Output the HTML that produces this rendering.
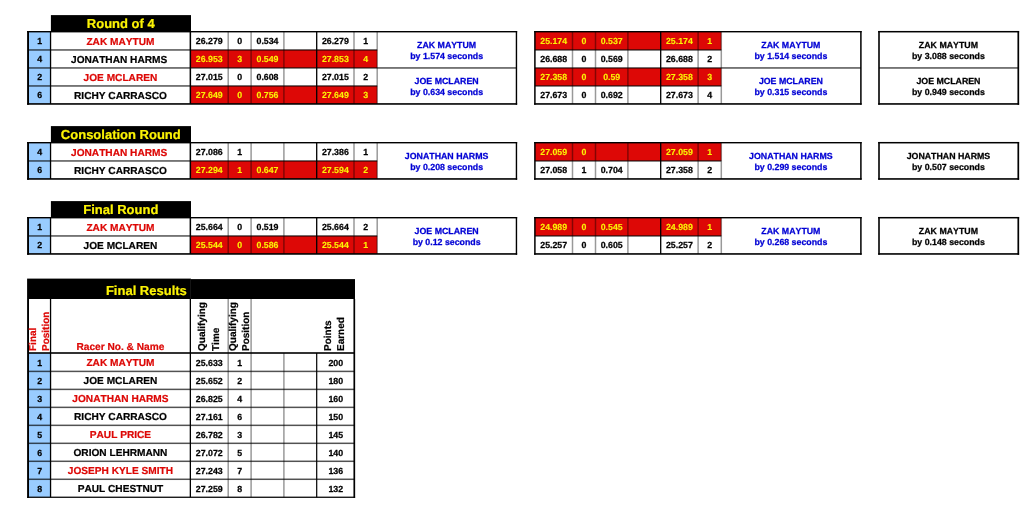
<!DOCTYPE html>
<html lang="en"><head><meta charset="utf-8"><title>Race Results</title><style>
html,body{margin:0;padding:0;background:#fff}
body{width:1024px;height:522px;position:relative;overflow:hidden;font-family:"Liberation Sans",sans-serif;font-weight:bold;font-kerning:none;text-rendering:geometricPrecision}
svg{position:absolute;left:0;top:0}
.t,.r{position:absolute;white-space:pre}
.t{width:200px;text-align:center;line-height:20px}
.d{font-size:8.8px;-webkit-text-stroke:.25px}.y{-webkit-text-stroke:.1px}.n{font-size:10.15px;-webkit-text-stroke:.2px}.h{font-size:13px;-webkit-text-stroke:.2px}
.r{font-size:10px;-webkit-text-stroke:.2px;line-height:12px;transform-origin:0 0;transform:rotate(-90deg);text-align:left}
</style></head><body>
<svg width="1024" height="522" viewBox="0 0 1024 522">
<!-- Round of 4 -->
<rect x="50.90" y="15.10" width="140.10" height="16.60" fill="#000"/>
<rect x="28.05" y="31.70" width="22.50" height="18.25" fill="#99ccff"/>
<rect x="534.90" y="31.70" width="186.40" height="18.25" fill="#dd0806"/>
<rect x="28.05" y="49.95" width="22.50" height="18.00" fill="#99ccff"/>
<rect x="190.35" y="49.95" width="186.85" height="18.00" fill="#dd0806"/>
<rect x="28.05" y="67.95" width="22.50" height="18.00" fill="#99ccff"/>
<rect x="534.90" y="67.95" width="186.40" height="18.00" fill="#dd0806"/>
<rect x="28.05" y="85.95" width="22.50" height="18.00" fill="#99ccff"/>
<rect x="190.35" y="85.95" width="186.85" height="18.00" fill="#dd0806"/>
<rect x="28.05" y="49.20" width="162.30" height="1.50" fill="#000" fill-opacity="0.68"/>
<rect x="190.35" y="49.20" width="186.85" height="1.50" fill="#000" fill-opacity="0.68"/>
<rect x="28.05" y="67.20" width="162.30" height="1.50" fill="#000" fill-opacity="0.68"/>
<rect x="190.35" y="67.20" width="326.10" height="1.50" fill="#000" fill-opacity="0.68"/>
<rect x="28.05" y="85.20" width="162.30" height="1.50" fill="#000" fill-opacity="0.68"/>
<rect x="190.35" y="85.20" width="186.85" height="1.50" fill="#000" fill-opacity="0.68"/>
<rect x="227.45" y="31.70" width="1.50" height="72.25" fill="#000" fill-opacity="0.4"/>
<rect x="250.35" y="31.70" width="1.50" height="72.25" fill="#000" fill-opacity="0.4"/>
<rect x="283.15" y="31.70" width="1.50" height="72.25" fill="#000" fill-opacity="0.4"/>
<rect x="353.25" y="31.70" width="1.50" height="72.25" fill="#000" fill-opacity="0.4"/>
<rect x="376.45" y="31.70" width="1.50" height="72.25" fill="#000" fill-opacity="0.4"/>
<rect x="316.05" y="31.70" width="1.30" height="72.25" fill="#000"/>
<rect x="49.90" y="31.70" width="1.30" height="72.25" fill="#000"/>
<rect x="189.60" y="31.70" width="1.50" height="72.25" fill="#000"/>
<rect x="27.10" y="31.00" width="490.05" height="1.40" fill="#000"/>
<rect x="27.10" y="103.15" width="490.05" height="1.60" fill="#000"/>
<rect x="27.10" y="31.00" width="1.90" height="73.75" fill="#000"/>
<rect x="515.75" y="31.00" width="1.40" height="73.75" fill="#000"/>
<rect x="534.90" y="49.20" width="186.40" height="1.50" fill="#000" fill-opacity="0.68"/>
<rect x="534.90" y="67.20" width="326.00" height="1.50" fill="#000" fill-opacity="0.68"/>
<rect x="534.90" y="85.20" width="186.40" height="1.50" fill="#000" fill-opacity="0.68"/>
<rect x="571.75" y="31.70" width="1.50" height="72.25" fill="#000" fill-opacity="0.4"/>
<rect x="594.75" y="31.70" width="1.50" height="72.25" fill="#000" fill-opacity="0.4"/>
<rect x="627.15" y="31.70" width="1.50" height="72.25" fill="#000" fill-opacity="0.4"/>
<rect x="697.35" y="31.70" width="1.50" height="72.25" fill="#000" fill-opacity="0.4"/>
<rect x="720.55" y="31.70" width="1.50" height="72.25" fill="#000" fill-opacity="0.4"/>
<rect x="660.05" y="31.70" width="1.30" height="72.25" fill="#000"/>
<rect x="534.15" y="31.00" width="327.45" height="1.40" fill="#000"/>
<rect x="534.15" y="103.15" width="327.45" height="1.60" fill="#000"/>
<rect x="534.15" y="31.00" width="1.50" height="73.75" fill="#000"/>
<rect x="860.15" y="31.00" width="1.50" height="73.75" fill="#000"/>
<rect x="878.20" y="30.95" width="140.90" height="1.50" fill="#000"/>
<rect x="878.20" y="103.15" width="140.90" height="1.60" fill="#000"/>
<rect x="878.20" y="31.00" width="1.60" height="73.75" fill="#000"/>
<rect x="1017.45" y="31.00" width="1.70" height="73.75" fill="#000"/>
<rect x="879.00" y="67.20" width="139.30" height="1.50" fill="#000" fill-opacity="0.68"/>
<!-- Consolation Round -->
<rect x="50.90" y="126.10" width="140.10" height="16.60" fill="#000"/>
<rect x="28.05" y="142.70" width="22.50" height="18.25" fill="#99ccff"/>
<rect x="534.90" y="142.70" width="186.40" height="18.25" fill="#dd0806"/>
<rect x="28.05" y="160.95" width="22.50" height="18.00" fill="#99ccff"/>
<rect x="190.35" y="160.95" width="186.85" height="18.00" fill="#dd0806"/>
<rect x="28.05" y="160.20" width="162.30" height="1.50" fill="#000" fill-opacity="0.68"/>
<rect x="190.35" y="160.20" width="186.85" height="1.50" fill="#000" fill-opacity="0.68"/>
<rect x="227.45" y="142.70" width="1.50" height="36.25" fill="#000" fill-opacity="0.4"/>
<rect x="250.35" y="142.70" width="1.50" height="36.25" fill="#000" fill-opacity="0.4"/>
<rect x="283.15" y="142.70" width="1.50" height="36.25" fill="#000" fill-opacity="0.4"/>
<rect x="353.25" y="142.70" width="1.50" height="36.25" fill="#000" fill-opacity="0.4"/>
<rect x="376.45" y="142.70" width="1.50" height="36.25" fill="#000" fill-opacity="0.4"/>
<rect x="316.05" y="142.70" width="1.30" height="36.25" fill="#000"/>
<rect x="49.90" y="142.70" width="1.30" height="36.25" fill="#000"/>
<rect x="189.60" y="142.70" width="1.50" height="36.25" fill="#000"/>
<rect x="27.10" y="142.00" width="490.05" height="1.40" fill="#000"/>
<rect x="27.10" y="178.15" width="490.05" height="1.60" fill="#000"/>
<rect x="27.10" y="142.00" width="1.90" height="37.75" fill="#000"/>
<rect x="515.75" y="142.00" width="1.40" height="37.75" fill="#000"/>
<rect x="534.90" y="160.20" width="186.40" height="1.50" fill="#000" fill-opacity="0.68"/>
<rect x="571.75" y="142.70" width="1.50" height="36.25" fill="#000" fill-opacity="0.4"/>
<rect x="594.75" y="142.70" width="1.50" height="36.25" fill="#000" fill-opacity="0.4"/>
<rect x="627.15" y="142.70" width="1.50" height="36.25" fill="#000" fill-opacity="0.4"/>
<rect x="697.35" y="142.70" width="1.50" height="36.25" fill="#000" fill-opacity="0.4"/>
<rect x="720.55" y="142.70" width="1.50" height="36.25" fill="#000" fill-opacity="0.4"/>
<rect x="660.05" y="142.70" width="1.30" height="36.25" fill="#000"/>
<rect x="534.15" y="142.00" width="327.45" height="1.40" fill="#000"/>
<rect x="534.15" y="178.15" width="327.45" height="1.60" fill="#000"/>
<rect x="534.15" y="142.00" width="1.50" height="37.75" fill="#000"/>
<rect x="860.15" y="142.00" width="1.50" height="37.75" fill="#000"/>
<rect x="878.20" y="141.95" width="140.90" height="1.50" fill="#000"/>
<rect x="878.20" y="178.15" width="140.90" height="1.60" fill="#000"/>
<rect x="878.20" y="142.00" width="1.60" height="37.75" fill="#000"/>
<rect x="1017.45" y="142.00" width="1.70" height="37.75" fill="#000"/>
<!-- Final Round -->
<rect x="50.90" y="201.10" width="140.10" height="16.60" fill="#000"/>
<rect x="28.05" y="217.70" width="22.50" height="18.25" fill="#99ccff"/>
<rect x="534.90" y="217.70" width="186.40" height="18.25" fill="#dd0806"/>
<rect x="28.05" y="235.95" width="22.50" height="18.00" fill="#99ccff"/>
<rect x="190.35" y="235.95" width="186.85" height="18.00" fill="#dd0806"/>
<rect x="28.05" y="235.20" width="162.30" height="1.50" fill="#000" fill-opacity="0.68"/>
<rect x="190.35" y="235.20" width="186.85" height="1.50" fill="#000" fill-opacity="0.68"/>
<rect x="227.45" y="217.70" width="1.50" height="36.25" fill="#000" fill-opacity="0.4"/>
<rect x="250.35" y="217.70" width="1.50" height="36.25" fill="#000" fill-opacity="0.4"/>
<rect x="283.15" y="217.70" width="1.50" height="36.25" fill="#000" fill-opacity="0.4"/>
<rect x="353.25" y="217.70" width="1.50" height="36.25" fill="#000" fill-opacity="0.4"/>
<rect x="376.45" y="217.70" width="1.50" height="36.25" fill="#000" fill-opacity="0.4"/>
<rect x="316.05" y="217.70" width="1.30" height="36.25" fill="#000"/>
<rect x="49.90" y="217.70" width="1.30" height="36.25" fill="#000"/>
<rect x="189.60" y="217.70" width="1.50" height="36.25" fill="#000"/>
<rect x="27.10" y="217.00" width="490.05" height="1.40" fill="#000"/>
<rect x="27.10" y="253.15" width="490.05" height="1.60" fill="#000"/>
<rect x="27.10" y="217.00" width="1.90" height="37.75" fill="#000"/>
<rect x="515.75" y="217.00" width="1.40" height="37.75" fill="#000"/>
<rect x="534.90" y="235.20" width="186.40" height="1.50" fill="#000" fill-opacity="0.68"/>
<rect x="571.75" y="217.70" width="1.50" height="36.25" fill="#000" fill-opacity="0.4"/>
<rect x="594.75" y="217.70" width="1.50" height="36.25" fill="#000" fill-opacity="0.4"/>
<rect x="627.15" y="217.70" width="1.50" height="36.25" fill="#000" fill-opacity="0.4"/>
<rect x="697.35" y="217.70" width="1.50" height="36.25" fill="#000" fill-opacity="0.4"/>
<rect x="720.55" y="217.70" width="1.50" height="36.25" fill="#000" fill-opacity="0.4"/>
<rect x="660.05" y="217.70" width="1.30" height="36.25" fill="#000"/>
<rect x="534.15" y="217.00" width="327.45" height="1.40" fill="#000"/>
<rect x="534.15" y="253.15" width="327.45" height="1.60" fill="#000"/>
<rect x="534.15" y="217.00" width="1.50" height="37.75" fill="#000"/>
<rect x="860.15" y="217.00" width="1.50" height="37.75" fill="#000"/>
<rect x="878.20" y="216.95" width="140.90" height="1.50" fill="#000"/>
<rect x="878.20" y="253.15" width="140.90" height="1.60" fill="#000"/>
<rect x="878.20" y="217.00" width="1.60" height="37.75" fill="#000"/>
<rect x="1017.45" y="217.00" width="1.70" height="37.75" fill="#000"/>
<!-- Final Results -->
<rect x="27.10" y="278.60" width="163.80" height="20.40" fill="#000"/>
<rect x="190.80" y="279.10" width="164.20" height="19.90" fill="#000"/>
<rect x="28.05" y="353.00" width="22.50" height="144.26" fill="#99ccff"/>
<rect x="28.05" y="352.20" width="325.95" height="1.60" fill="#000"/>
<rect x="28.05" y="370.65" width="325.95" height="1.50" fill="#000" fill-opacity="0.68"/>
<rect x="28.05" y="388.63" width="325.95" height="1.50" fill="#000" fill-opacity="0.68"/>
<rect x="28.05" y="406.61" width="325.95" height="1.50" fill="#000" fill-opacity="0.68"/>
<rect x="28.05" y="424.59" width="325.95" height="1.50" fill="#000" fill-opacity="0.68"/>
<rect x="28.05" y="442.57" width="325.95" height="1.50" fill="#000" fill-opacity="0.68"/>
<rect x="28.05" y="460.55" width="325.95" height="1.50" fill="#000" fill-opacity="0.68"/>
<rect x="28.05" y="478.53" width="325.95" height="1.50" fill="#000" fill-opacity="0.68"/>
<rect x="27.15" y="496.63" width="327.95" height="1.25" fill="#000"/>
<rect x="27.10" y="299.00" width="1.90" height="198.96" fill="#000"/>
<rect x="49.90" y="299.00" width="1.30" height="198.26" fill="#000"/>
<rect x="189.70" y="299.00" width="1.30" height="198.26" fill="#000"/>
<rect x="227.45" y="299.00" width="1.50" height="198.26" fill="#000" fill-opacity="0.4"/>
<rect x="250.35" y="299.00" width="1.50" height="198.26" fill="#000" fill-opacity="0.4"/>
<rect x="283.15" y="353.00" width="1.50" height="144.26" fill="#000" fill-opacity="0.4"/>
<rect x="316.10" y="353.00" width="1.20" height="144.26" fill="#000"/>
<rect x="353.45" y="299.00" width="1.70" height="198.86" fill="#000"/>
</svg>
<main>
<!-- Round of 4 -->
<div class="t h" style="left:20.80px;top:14px;color:#fcf305">Round of 4</div>
<div class="t d" style="left:-60.40px;top:31px;color:#000">1</div>
<div class="t n" style="left:20.45px;top:33px;color:#dd0806">ZAK MAYTUM</div>
<div class="t d" style="left:109.27px;top:31px;color:#000">26.279</div>
<div class="t d" style="left:139.65px;top:31px;color:#000">0</div>
<div class="t d" style="left:167.50px;top:31px;color:#000">0.534</div>
<div class="t d" style="left:235.35px;top:31px;color:#000">26.279</div>
<div class="t d" style="left:265.60px;top:31px;color:#000">1</div>
<div class="t d y" style="left:453.70px;top:31px;color:#fcf305">25.174</div>
<div class="t d y" style="left:484.00px;top:31px;color:#fcf305">0</div>
<div class="t d y" style="left:511.70px;top:31px;color:#fcf305">0.537</div>
<div class="t d y" style="left:579.40px;top:31px;color:#fcf305">25.174</div>
<div class="t d y" style="left:609.70px;top:31px;color:#fcf305">1</div>
<div class="t d" style="left:-60.40px;top:49px;color:#000">4</div>
<div class="t n" style="left:19.15px;top:51px;color:#000">JONATHAN HARMS</div>
<div class="t d y" style="left:109.27px;top:49px;color:#fcf305">26.953</div>
<div class="t d y" style="left:139.65px;top:49px;color:#fcf305">3</div>
<div class="t d y" style="left:167.50px;top:49px;color:#fcf305">0.549</div>
<div class="t d y" style="left:235.35px;top:49px;color:#fcf305">27.853</div>
<div class="t d y" style="left:265.60px;top:49px;color:#fcf305">4</div>
<div class="t d" style="left:453.70px;top:49px;color:#000">26.688</div>
<div class="t d" style="left:484.00px;top:49px;color:#000">0</div>
<div class="t d" style="left:511.70px;top:49px;color:#000">0.569</div>
<div class="t d" style="left:579.40px;top:49px;color:#000">26.688</div>
<div class="t d" style="left:609.70px;top:49px;color:#000">2</div>
<div class="t d" style="left:-60.40px;top:67px;color:#000">2</div>
<div class="t n" style="left:20.45px;top:69px;color:#dd0806">JOE MCLAREN</div>
<div class="t d" style="left:109.27px;top:67px;color:#000">27.015</div>
<div class="t d" style="left:139.65px;top:67px;color:#000">0</div>
<div class="t d" style="left:167.50px;top:67px;color:#000">0.608</div>
<div class="t d" style="left:235.35px;top:67px;color:#000">27.015</div>
<div class="t d" style="left:265.60px;top:67px;color:#000">2</div>
<div class="t d y" style="left:453.70px;top:67px;color:#fcf305">27.358</div>
<div class="t d y" style="left:484.00px;top:67px;color:#fcf305">0</div>
<div class="t d y" style="left:511.70px;top:67px;color:#fcf305">0.59</div>
<div class="t d y" style="left:579.40px;top:67px;color:#fcf305">27.358</div>
<div class="t d y" style="left:609.70px;top:67px;color:#fcf305">3</div>
<div class="t d" style="left:-60.40px;top:85px;color:#000">6</div>
<div class="t n" style="left:20.45px;top:87px;color:#000">RICHY CARRASCO</div>
<div class="t d y" style="left:109.27px;top:85px;color:#fcf305">27.649</div>
<div class="t d y" style="left:139.65px;top:85px;color:#fcf305">0</div>
<div class="t d y" style="left:167.50px;top:85px;color:#fcf305">0.756</div>
<div class="t d y" style="left:235.35px;top:85px;color:#fcf305">27.649</div>
<div class="t d y" style="left:265.60px;top:85px;color:#fcf305">3</div>
<div class="t d" style="left:453.70px;top:85px;color:#000">27.673</div>
<div class="t d" style="left:484.00px;top:85px;color:#000">0</div>
<div class="t d" style="left:511.70px;top:85px;color:#000">0.692</div>
<div class="t d" style="left:579.40px;top:85px;color:#000">27.673</div>
<div class="t d" style="left:609.70px;top:85px;color:#000">4</div>
<div class="t d" style="left:346.63px;top:35px;color:#0000d4">ZAK MAYTUM</div>
<div class="t d" style="left:346.63px;top:46px;color:#0000d4">by 1.574 seconds</div>
<div class="t d" style="left:690.90px;top:35px;color:#0000d4">ZAK MAYTUM</div>
<div class="t d" style="left:690.90px;top:46px;color:#0000d4">by 1.514 seconds</div>
<div class="t d" style="left:848.45px;top:35px;color:#000">ZAK MAYTUM</div>
<div class="t d" style="left:848.45px;top:46px;color:#000">by 3.088 seconds</div>
<div class="t d" style="left:346.63px;top:71px;color:#0000d4">JOE MCLAREN</div>
<div class="t d" style="left:346.63px;top:82px;color:#0000d4">by 0.634 seconds</div>
<div class="t d" style="left:690.90px;top:71px;color:#0000d4">JOE MCLAREN</div>
<div class="t d" style="left:690.90px;top:82px;color:#0000d4">by 0.315 seconds</div>
<div class="t d" style="left:848.45px;top:71px;color:#000">JOE MCLAREN</div>
<div class="t d" style="left:848.45px;top:82px;color:#000">by 0.949 seconds</div>
<!-- Consolation Round -->
<div class="t h" style="left:20.80px;top:125px;color:#fcf305">Consolation Round</div>
<div class="t d" style="left:-60.40px;top:142px;color:#000">4</div>
<div class="t n" style="left:19.15px;top:144px;color:#dd0806">JONATHAN HARMS</div>
<div class="t d" style="left:109.27px;top:142px;color:#000">27.086</div>
<div class="t d" style="left:139.65px;top:142px;color:#000">1</div>
<div class="t d" style="left:235.35px;top:142px;color:#000">27.386</div>
<div class="t d" style="left:265.60px;top:142px;color:#000">1</div>
<div class="t d y" style="left:453.70px;top:142px;color:#fcf305">27.059</div>
<div class="t d y" style="left:484.00px;top:142px;color:#fcf305">0</div>
<div class="t d y" style="left:579.40px;top:142px;color:#fcf305">27.059</div>
<div class="t d y" style="left:609.70px;top:142px;color:#fcf305">1</div>
<div class="t d" style="left:-60.40px;top:160px;color:#000">6</div>
<div class="t n" style="left:20.45px;top:162px;color:#000">RICHY CARRASCO</div>
<div class="t d y" style="left:109.27px;top:160px;color:#fcf305">27.294</div>
<div class="t d y" style="left:139.65px;top:160px;color:#fcf305">1</div>
<div class="t d y" style="left:167.50px;top:160px;color:#fcf305">0.647</div>
<div class="t d y" style="left:235.35px;top:160px;color:#fcf305">27.594</div>
<div class="t d y" style="left:265.60px;top:160px;color:#fcf305">2</div>
<div class="t d" style="left:453.70px;top:160px;color:#000">27.058</div>
<div class="t d" style="left:484.00px;top:160px;color:#000">1</div>
<div class="t d" style="left:511.70px;top:160px;color:#000">0.704</div>
<div class="t d" style="left:579.40px;top:160px;color:#000">27.358</div>
<div class="t d" style="left:609.70px;top:160px;color:#000">2</div>
<div class="t d" style="left:346.63px;top:146px;color:#0000d4">JONATHAN HARMS</div>
<div class="t d" style="left:346.63px;top:157px;color:#0000d4">by 0.208 seconds</div>
<div class="t d" style="left:690.90px;top:146px;color:#0000d4">JONATHAN HARMS</div>
<div class="t d" style="left:690.90px;top:157px;color:#0000d4">by 0.299 seconds</div>
<div class="t d" style="left:848.45px;top:146px;color:#000">JONATHAN HARMS</div>
<div class="t d" style="left:848.45px;top:157px;color:#000">by 0.507 seconds</div>
<!-- Final Round -->
<div class="t h" style="left:20.80px;top:200px;color:#fcf305">Final Round</div>
<div class="t d" style="left:-60.40px;top:217px;color:#000">1</div>
<div class="t n" style="left:20.45px;top:219px;color:#dd0806">ZAK MAYTUM</div>
<div class="t d" style="left:109.27px;top:217px;color:#000">25.664</div>
<div class="t d" style="left:139.65px;top:217px;color:#000">0</div>
<div class="t d" style="left:167.50px;top:217px;color:#000">0.519</div>
<div class="t d" style="left:235.35px;top:217px;color:#000">25.664</div>
<div class="t d" style="left:265.60px;top:217px;color:#000">2</div>
<div class="t d y" style="left:453.70px;top:217px;color:#fcf305">24.989</div>
<div class="t d y" style="left:484.00px;top:217px;color:#fcf305">0</div>
<div class="t d y" style="left:511.70px;top:217px;color:#fcf305">0.545</div>
<div class="t d y" style="left:579.40px;top:217px;color:#fcf305">24.989</div>
<div class="t d y" style="left:609.70px;top:217px;color:#fcf305">1</div>
<div class="t d" style="left:-60.40px;top:235px;color:#000">2</div>
<div class="t n" style="left:20.45px;top:237px;color:#000">JOE MCLAREN</div>
<div class="t d y" style="left:109.27px;top:235px;color:#fcf305">25.544</div>
<div class="t d y" style="left:139.65px;top:235px;color:#fcf305">0</div>
<div class="t d y" style="left:167.50px;top:235px;color:#fcf305">0.586</div>
<div class="t d y" style="left:235.35px;top:235px;color:#fcf305">25.544</div>
<div class="t d y" style="left:265.60px;top:235px;color:#fcf305">1</div>
<div class="t d" style="left:453.70px;top:235px;color:#000">25.257</div>
<div class="t d" style="left:484.00px;top:235px;color:#000">0</div>
<div class="t d" style="left:511.70px;top:235px;color:#000">0.605</div>
<div class="t d" style="left:579.40px;top:235px;color:#000">25.257</div>
<div class="t d" style="left:609.70px;top:235px;color:#000">2</div>
<div class="t d" style="left:346.63px;top:221px;color:#0000d4">JOE MCLAREN</div>
<div class="t d" style="left:346.63px;top:232px;color:#0000d4">by 0.12 seconds</div>
<div class="t d" style="left:690.90px;top:221px;color:#0000d4">ZAK MAYTUM</div>
<div class="t d" style="left:690.90px;top:232px;color:#0000d4">by 0.268 seconds</div>
<div class="t d" style="left:848.45px;top:221px;color:#000">ZAK MAYTUM</div>
<div class="t d" style="left:848.45px;top:232px;color:#000">by 0.148 seconds</div>
<!-- Final Results -->
<div class="t h" style="left:46.40px;top:281px;color:#fcf305">Final Results</div>
<div class="t d" style="left:-60.40px;top:353px;color:#000">1</div>
<div class="t n" style="left:20.45px;top:354px;color:#dd0806">ZAK MAYTUM</div>
<div class="t d" style="left:109.27px;top:353px;color:#000">25.633</div>
<div class="t d" style="left:139.65px;top:353px;color:#000">1</div>
<div class="t d" style="left:235.75px;top:353px;color:#000">200</div>
<div class="t d" style="left:-60.40px;top:371px;color:#000">2</div>
<div class="t n" style="left:20.45px;top:372px;color:#000">JOE MCLAREN</div>
<div class="t d" style="left:109.27px;top:371px;color:#000">25.652</div>
<div class="t d" style="left:139.65px;top:371px;color:#000">2</div>
<div class="t d" style="left:235.75px;top:371px;color:#000">180</div>
<div class="t d" style="left:-60.40px;top:389px;color:#000">3</div>
<div class="t n" style="left:20.45px;top:390px;color:#dd0806">JONATHAN HARMS</div>
<div class="t d" style="left:109.27px;top:389px;color:#000">26.825</div>
<div class="t d" style="left:139.65px;top:389px;color:#000">4</div>
<div class="t d" style="left:235.75px;top:389px;color:#000">160</div>
<div class="t d" style="left:-60.40px;top:407px;color:#000">4</div>
<div class="t n" style="left:20.45px;top:408px;color:#000">RICHY CARRASCO</div>
<div class="t d" style="left:109.27px;top:407px;color:#000">27.161</div>
<div class="t d" style="left:139.65px;top:407px;color:#000">6</div>
<div class="t d" style="left:235.75px;top:407px;color:#000">150</div>
<div class="t d" style="left:-60.40px;top:425px;color:#000">5</div>
<div class="t n" style="left:20.45px;top:426px;color:#dd0806">PAUL PRICE</div>
<div class="t d" style="left:109.27px;top:425px;color:#000">26.782</div>
<div class="t d" style="left:139.65px;top:425px;color:#000">3</div>
<div class="t d" style="left:235.75px;top:425px;color:#000">145</div>
<div class="t d" style="left:-60.40px;top:443px;color:#000">6</div>
<div class="t n" style="left:20.45px;top:444px;color:#000">ORION LEHRMANN</div>
<div class="t d" style="left:109.27px;top:443px;color:#000">27.072</div>
<div class="t d" style="left:139.65px;top:443px;color:#000">5</div>
<div class="t d" style="left:235.75px;top:443px;color:#000">140</div>
<div class="t d" style="left:-60.40px;top:461px;color:#000">7</div>
<div class="t n" style="left:20.45px;top:462px;color:#dd0806">JOSEPH KYLE SMITH</div>
<div class="t d" style="left:109.27px;top:461px;color:#000">27.243</div>
<div class="t d" style="left:139.65px;top:461px;color:#000">7</div>
<div class="t d" style="left:235.75px;top:461px;color:#000">136</div>
<div class="t d" style="left:-60.40px;top:479px;color:#000">8</div>
<div class="t n" style="left:20.45px;top:480px;color:#000">PAUL CHESTNUT</div>
<div class="t d" style="left:109.27px;top:479px;color:#000">27.259</div>
<div class="t d" style="left:139.65px;top:479px;color:#000">8</div>
<div class="t d" style="left:235.75px;top:479px;color:#000">132</div>
<div class="t n" style="left:20.45px;top:338px;color:#dd0806">Racer No. &amp; Name</div>
<div class="r" style="left:28.00px;top:351.00px;color:#dd0806">Final</div>
<div class="r" style="left:41.00px;top:351.00px;color:#dd0806">Position</div>
<div class="r" style="left:197.00px;top:351.00px;color:#000">Qualifying</div>
<div class="r" style="left:211.00px;top:351.00px;color:#000">Time</div>
<div class="r" style="left:228.00px;top:351.00px;color:#000">Qualifying</div>
<div class="r" style="left:241.00px;top:351.00px;color:#000">Position</div>
<div class="r" style="left:323.00px;top:351.00px;color:#000">Points</div>
<div class="r" style="left:336.00px;top:351.00px;color:#000">Earned</div>
</main>
</body></html>
